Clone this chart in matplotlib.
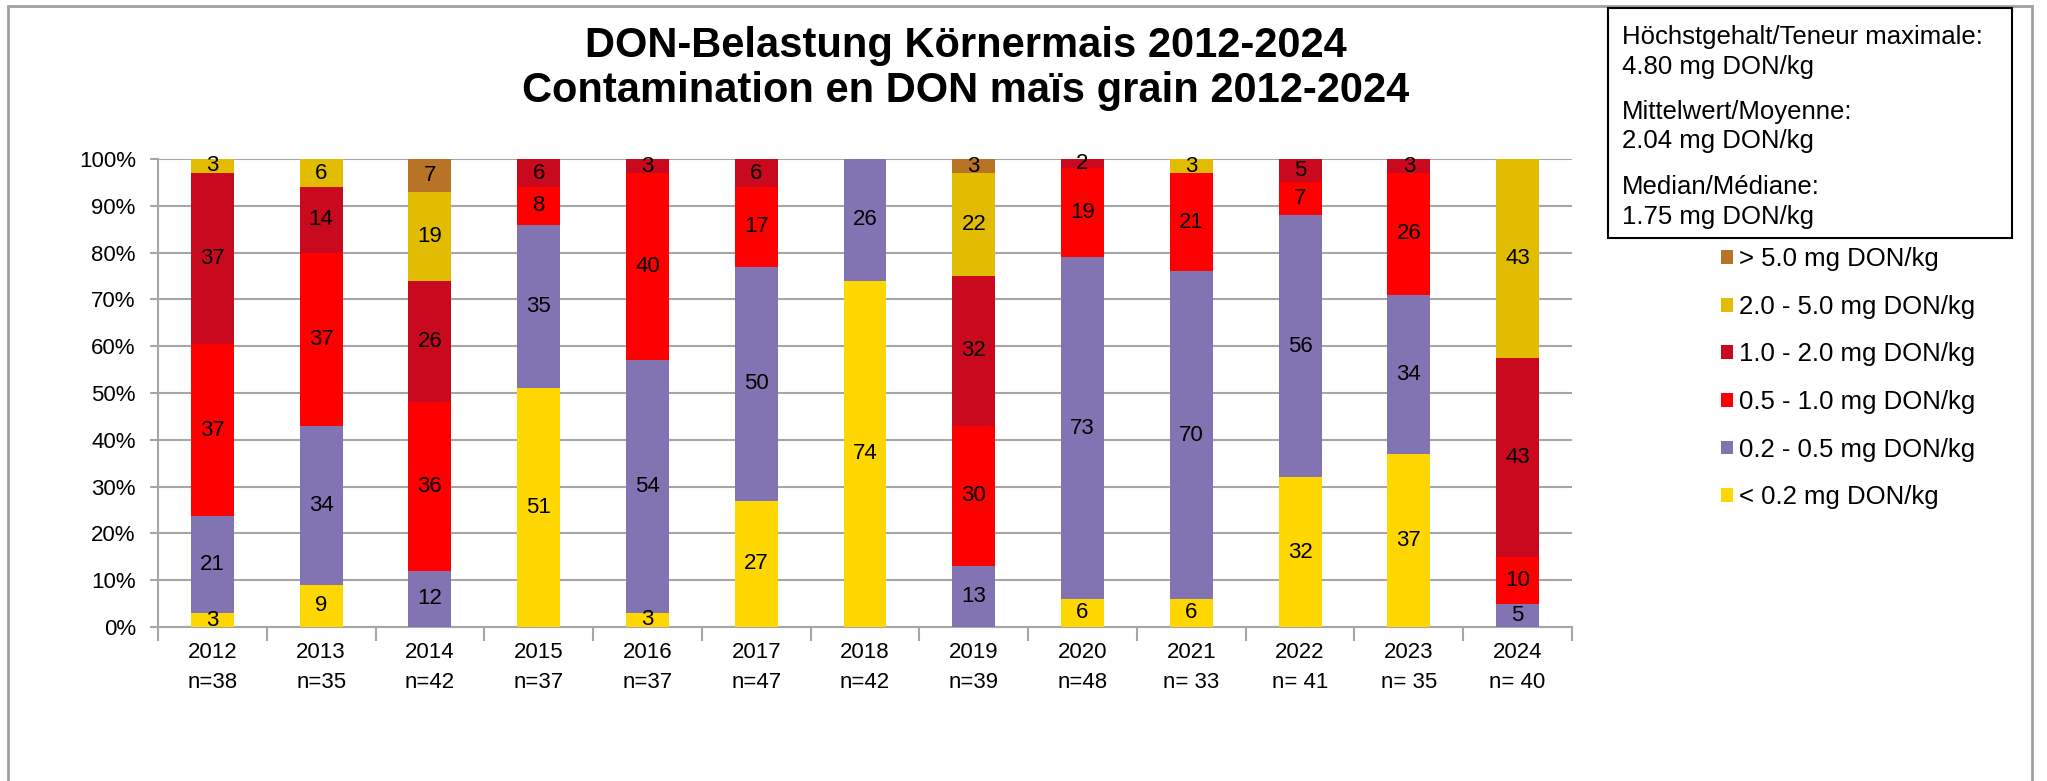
import numpy as np
import matplotlib
matplotlib.use('Agg')
import matplotlib.pyplot as plt
from matplotlib.patches import Rectangle, Patch

plt.rcParams['font.family'] = ['Liberation Sans', 'DejaVu Sans']

years = ['2012', '2013', '2014', '2015', '2016', '2017', '2018',
         '2019', '2020', '2021', '2022', '2023', '2024']
n_samples = ['n=38', 'n=35', 'n=42', 'n=37', 'n=37', 'n=47', 'n=42',
             'n=39', 'n=48', 'n= 33', 'n= 41', 'n= 35', 'n= 40']

# percent of samples per class (as labelled in the bars)
lt_02 = [3, 9, 0, 51, 3, 27, 74, 0, 6, 6, 32, 37, 0]
c02_05 = [21, 34, 12, 35, 54, 50, 26, 13, 73, 70, 56, 34, 5]
c05_10 = [37, 37, 36, 8, 40, 17, 0, 30, 19, 21, 7, 26, 10]
c10_20 = [37, 14, 26, 6, 3, 6, 0, 32, 2, 0, 5, 3, 43]
c20_50 = [3, 6, 19, 0, 0, 0, 0, 22, 0, 3, 0, 0, 43]
gt_50 = [0, 0, 7, 0, 0, 0, 0, 3, 0, 0, 0, 0, 0]

classes = ['< 0.2 mg DON/kg', '0.2 - 0.5 mg DON/kg', '0.5 - 1.0 mg DON/kg',
           '1.0 - 2.0 mg DON/kg', '2.0 - 5.0 mg DON/kg', '> 5.0 mg DON/kg']
colors = ['#FFD700', '#8273B3', '#FF0000', '#C9091E', '#E1BC00', '#B97327']

info_lines = ['Höchstgehalt/Teneur maximale:', '4.80 mg DON/kg',
              'Mittelwert/Moyenne:', '2.04 mg DON/kg',
              'Median/Médiane:', '1.75 mg DON/kg']

data = np.array([lt_02, c02_05, c05_10, c10_20, c20_50, gt_50], dtype=float)
pct = data / data.sum(axis=0) * 100  # 100% stacked, like the spreadsheet

W, H = 2047, 781
fig = plt.figure(figsize=(W / 100, H / 100), dpi=100)


def fx(px):
    return px / W


def fy(py):
    return 1 - py / H


ax = fig.add_axes([fx(158), fy(627), fx(1572) - fx(158), fy(159) - fy(627)])

x = np.arange(len(years))
bottom = np.zeros(len(years))
for i in range(len(classes)):
    ax.bar(x, pct[i], 0.395, bottom=bottom, color=colors[i], label=classes[i], zorder=3)
    for j in range(len(years)):
        if data[i, j] > 0:
            ax.text(x[j], bottom[j] + pct[i, j] / 2, '%d' % data[i, j],
                    ha='center', va='center', fontsize=16, zorder=4)
    bottom += pct[i]

ax.set_xlim(-0.5, len(years) - 0.5)
ax.set_ylim(0, 100)
ax.set_yticks(np.arange(0, 101, 10))
ax.set_yticklabels(['%d%%' % v for v in range(0, 101, 10)], fontsize=16)
ax.yaxis.grid(True, color='#a6a6a6', linewidth=1.5, zorder=0)
ax.tick_params(axis='y', length=6, color='#a6a6a6', width=1.5, pad=10)

ax.set_xticks(x)
ax.set_xticklabels([y + '\n' + n for y, n in zip(years, n_samples)],
                   fontsize=16, linespacing=1.55)
ax.set_xticks(np.arange(-0.5, len(years), 1), minor=True)
ax.tick_params(axis='x', which='major', length=0, pad=11)
ax.tick_params(axis='x', which='minor', length=10, color='#a6a6a6', width=1.5)

for s in ['top', 'right']:
    ax.spines[s].set_visible(False)
for s in ['left', 'bottom']:
    ax.spines[s].set_color('#a6a6a6')
    ax.spines[s].set_linewidth(1.5)

fig.text(fx(966), fy(46), 'DON-Belastung Körnermais 2012-2024', ha='center', va='center',
         fontsize=30, fontweight='bold')
fig.text(fx(966), fy(91), 'Contamination en DON maïs grain 2012-2024', ha='center', va='center',
         fontsize=30, fontweight='bold')

# outer frame of the chart area
fig.patches.append(Rectangle((fx(8), fy(800)), fx(2032) - fx(8), fy(6) - fy(800),
                             transform=fig.transFigure, fill=False,
                             edgecolor='#a0a0a0', linewidth=2))

# info box
fig.patches.append(Rectangle((fx(1608), fy(238)), fx(2012) - fx(1608), fy(8) - fy(238),
                             transform=fig.transFigure, fill=False,
                             edgecolor='black', linewidth=1.5))
info_y = [37, 67, 112, 141, 187, 217]
for t, yy in zip(info_lines, info_y):
    fig.text(fx(1622), fy(yy), t, ha='left', va='center', fontsize=18.5)

handles = [Patch(facecolor=c) for c in colors][::-1]
fig.legend(handles, classes[::-1], loc='upper left',
           bbox_to_anchor=(fx(1698), fy(224)), frameon=False, fontsize=18.5,
           handlelength=0.45, handleheight=0.45, handletextpad=0.25,
           labelspacing=0.92)

fig.savefig('out.png', dpi=100)
